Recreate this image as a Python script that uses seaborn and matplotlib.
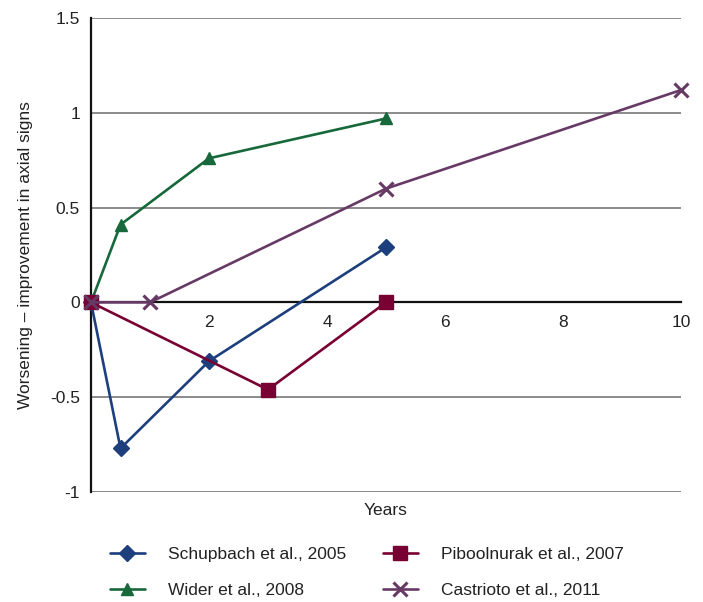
import numpy as np
import pandas as pd
import matplotlib
matplotlib.use("Agg")
import matplotlib.pyplot as plt
import seaborn as sns

# Data
schupbach_years = [0, 0.5, 2, 5]
schupbach_vals = [0, -0.77, -0.31, 0.29]

piboolnurak_years = [0, 3, 5]
piboolnurak_vals = [0, -0.46, 0]

wider_years = [0, 0.5, 2, 5]
wider_vals = [0, 0.41, 0.76, 0.97]

castrioto_years = [0, 1, 5, 10]
castrioto_vals = [0, 0, 0.6, 1.12]

x_ticks = [2, 4, 6, 8, 10]
y_ticks = [-1, -0.5, 0, 0.5, 1, 1.5]
y_tick_labels = ["-1", "-0.5", "0", "0.5", "1", "1.5"]

sns.set_style("white")
plt.rcParams["font.family"] = ["Liberation Sans", "DejaVu Sans"]

fig = plt.figure(figsize=(7.03, 6.02), dpi=100)
ax = fig.add_axes([91 / 703, 1 - 492 / 602, 590 / 703, 474 / 602])

series = [
    ("Schupbach et al., 2005", schupbach_years, schupbach_vals, "#1d3f7d", "D", 8, 1),
    ("Wider et al., 2008", wider_years, wider_vals, "#17683a", "^", 8.5, 1),
    ("Piboolnurak et al., 2007", piboolnurak_years, piboolnurak_vals, "#780033", "s", 10, 1),
    ("Castrioto et al., 2011", castrioto_years, castrioto_vals, "#673a65", "x", 10, 2.2),
]

# gridlines first so lines sit on top
for yv in y_ticks:
    if yv != 0:
        ax.axhline(yv, color="#777777", lw=1.2, zorder=0)

for label, xs, ys, color, marker, ms, mew in series:
    df = pd.DataFrame({"year": xs, "value": ys})
    sns.lineplot(data=df, x="year", y="value", ax=ax, color=color, marker=marker,
                 markersize=ms, markeredgewidth=mew, markeredgecolor=color,
                 linewidth=1.9, label=label, zorder=3, clip_on=False)

ax.spines["top"].set_visible(False)
ax.spines["right"].set_visible(False)
ax.spines["bottom"].set_position(("data", 0))
ax.spines["bottom"].set_color("#111111")
ax.spines["bottom"].set_linewidth(1.6)
ax.spines["left"].set_color("#111111")
ax.spines["left"].set_linewidth(1.6)

ax.set_xlim(0, 10)
ax.set_ylim(-1, 1.5)
ax.set_xticks(x_ticks)
ax.set_xticklabels([str(t) for t in x_ticks])
ax.set_yticks(y_ticks)
ax.set_yticklabels(y_tick_labels)
ax.tick_params(axis="both", length=0, pad=8, labelsize=12.5, labelcolor="#222222")
ax.tick_params(axis="x", pad=9)

ax.set_xlabel("")
ax.set_ylabel("Worsening – improvement in axial signs", fontsize=12.5, color="#222222", labelpad=12)
ax.text(0.5, -0.04, "Years", transform=ax.transAxes, ha="center", va="center",
        fontsize=12.5, color="#222222")

handles, labels = ax.get_legend_handles_labels()
ax.get_legend().remove()
fig.legend(handles, labels, ncol=2, loc="upper left",
           bbox_to_anchor=(110 / 703, 1 - 547 / 602), frameon=False,
           fontsize=12.5, handlelength=2.0, handletextpad=1.35,
           columnspacing=2.1, labelspacing=1.2, borderpad=0, borderaxespad=0,
           labelcolor="#222222")

fig.savefig("out.png", dpi=100)
